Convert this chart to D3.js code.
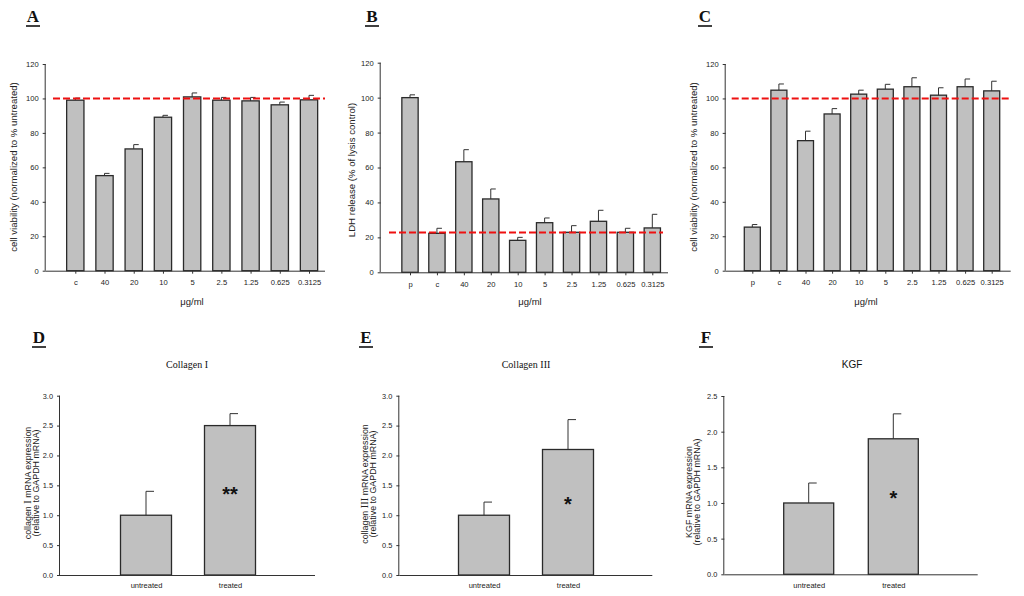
<!DOCTYPE html>
<html><head><meta charset="utf-8">
<script src="https://cdn.jsdelivr.net/npm/d3@7"></script>
<style>body{margin:0;background:#fff}svg{display:block}</style>
</head><body>
<svg id="c" width="1024" height="596"></svg>
<script>
// ---------- DATA ----------
const catsA = ["c","40","20","10","5","2.5","1.25","0.625","0.3125"];
const valsA = [99, 55.2, 70.7, 89.1, 100.9, 99, 98.6, 96.3, 99.2];
const errsA = [1.2, 1.3, 2.5, 1.1, 2.3, 1.6, 2.0, 1.6, 2.6];
const refA = 100;

const catsB = ["p","c","40","20","10","5","2.5","1.25","0.625","0.3125"];
const valsB = [100, 22.3, 63.3, 42, 18.3, 28.4, 22.9, 29.2, 22.9, 25.4];
const errsB = [1.6, 2.9, 6.9, 5.7, 1.7, 2.7, 3.8, 6.3, 2.3, 7.8];
const refB = 22.8;

const catsC = ["p","c","40","20","10","5","2.5","1.25","0.625","0.3125"];
const valsC = [25.3, 104.8, 75.5, 91, 102.5, 105.4, 106.8, 101.9, 106.8, 104.4];
const errsC = [1.5, 3.6, 5.5, 3.1, 2.3, 2.8, 5.2, 4.3, 4.5, 5.6];
const refC = 100;

const catsMRNA = ["untreated","treated"];
const valsD = [1.0, 2.5];
const errsD = [0.4, 0.2];
const valsE = [1.0, 2.1];
const errsE = [0.22, 0.5];
const valsF = [1.0, 1.9];
const errsF = [0.28, 0.35];

const ticksTop = [0,20,40,60,80,100,120];
const ticksDE = [0,0.5,1.0,1.5,2.0,2.5,3.0];
const ticksF = [0,0.5,1.0,1.5,2.0,2.5];

// ---------- DRAW ----------
const svg = d3.select("#c");
const SANS = "'Liberation Sans', Arial, sans-serif";
const SERIF = "'Liberation Serif', 'Times New Roman', serif";

function panel(o){
  const g = svg.append("g");
  const y = d3.scaleLinear().domain(o.ydom).range([o.y0, o.y1]);
  const x = d3.scalePoint().domain(o.cats).range([o.c0, o.c1]);
  const data = o.cats.map((c,i)=>({c, v:o.vals[i], e:o.errs[i]}));
  g.selectAll("line.err").data(data).join("line")
    .attr("x1", d=>x(d.c)).attr("x2", d=>x(d.c))
    .attr("y1", d=>y(d.v)).attr("y2", d=>y(d.v+d.e))
    .attr("stroke","#333").attr("stroke-width",1);
  g.selectAll("line.cap").data(data).join("line")
    .attr("x1", d=>x(d.c)).attr("x2", d=>x(d.c)+o.cap)
    .attr("y1", d=>y(d.v+d.e)).attr("y2", d=>y(d.v+d.e))
    .attr("stroke","#333").attr("stroke-width",1);
  g.selectAll("rect.bar").data(data).join("rect")
    .attr("x", d=>x(d.c)-o.bw/2).attr("width", o.bw)
    .attr("y", d=>y(d.v)).attr("height", d=>y(0)-y(d.v))
    .attr("fill","#c0c0c0").attr("stroke","#2a2a2a").attr("stroke-width",1.3);
  const ya = d3.axisLeft(y).tickValues(o.ticks).tickSize(3).tickPadding(4)
    .tickFormat(o.fmt);
  const yg = g.append("g").attr("transform",`translate(${o.ax0},0)`).call(ya);
  yg.select(".domain").attr("d",`M-0.5,${o.y0}V${y(o.ticks[o.ticks.length-1])}`).attr("stroke","#333");
  yg.selectAll(".tick line").attr("stroke","#333");
  yg.selectAll("text").attr("font-family",SANS).attr("font-size",o.tfs).attr("fill","#222");
  g.append("line").attr("x1",o.ax0).attr("x2",o.ax1).attr("y1",o.y0+0.5).attr("y2",o.y0+0.5)
    .attr("stroke","#333").attr("stroke-width",1);
  const xa = d3.axisBottom(x).tickSize(o.xtick).tickPadding(o.xpad);
  const xg = g.append("g").attr("transform",`translate(0,${o.y0})`).call(xa);
  xg.select(".domain").remove();
  xg.selectAll(".tick line").attr("stroke","#333");
  xg.selectAll("text").attr("font-family",SANS).attr("font-size",o.xfs).attr("fill","#222");
  if (o.ref !== undefined){
    g.append("line").attr("x1",o.r0).attr("x2",o.r1).attr("y1",y(o.ref)).attr("y2",y(o.ref))
      .attr("stroke","#ee1111").attr("stroke-width",2).attr("stroke-dasharray","7,3");
  }
  o.ytitle.forEach((t,i)=>{
    const tx = g.append("text").attr("transform",`translate(${o.ytx + i*o.yld},${o.yty}) rotate(-90)`)
      .attr("text-anchor","middle").attr("dy","0.35em")
      .attr("font-family",SANS).attr("font-size",o.yfs).attr("fill","#222");
    if (Array.isArray(t)) t.forEach(p=>tx.append("tspan").attr("font-family",p.f==="serif"?SERIF:SANS)
        .attr("font-size",p.s||o.yfs).text(p.t));
    else tx.text(t);
  });
  if (o.xtitle) g.append("text").attr("x",o.xtx).attr("y",o.xty).attr("text-anchor","middle")
    .attr("font-family",SANS).attr("font-size",9.5).attr("fill","#222").text(o.xtitle);
  if (o.title) g.append("text").attr("x",o.ttx).attr("y",o.tty).attr("text-anchor","middle")
    .attr("font-family",o.tfont).attr("font-size",o.tsize).attr("fill","#111").text(o.title);
  g.append("text").attr("x",o.lx).attr("y",o.ly).attr("text-anchor","middle")
    .attr("font-family",SERIF).attr("font-weight","bold").attr("font-size",17).attr("fill","#111").text(o.letter);
  g.append("line").attr("x1",o.lx-7).attr("x2",o.lx+7).attr("y1",o.ly+4).attr("y2",o.ly+4)
    .attr("stroke","#111").attr("stroke-width",1.6);
  if (o.sig) g.append("text").attr("x",x(o.cats[1])).attr("y",o.sigy).attr("text-anchor","middle")
    .attr("dy","0.7em").attr("font-family",SANS).attr("font-weight","bold").attr("font-size",o.sigfs).attr("fill","#111").text(o.sig);
}

const fmt0 = d3.format("d"), fmt1 = d3.format(".1f");
const yTopTitle = "cell viability (normalized to % untreated)";

panel({cats:catsA, vals:valsA, errs:errsA, ydom:[0,120], y0:270.7, y1:64, c0:75.3, c1:309, bw:17.3, cap:5,
  ax0:45.7, ax1:325, ticks:ticksTop, fmt:fmt0, tfs:7.6, xtick:3, xpad:6, xfs:7.6,
  ref:refA, r0:53, r1:325, ytitle:[yTopTitle], ytx:14, yld:0, yty:167, yfs:9.6,
  xtitle:"\u03bcg/ml", xtx:192, xty:305, letter:"A", lx:33, ly:22});
panel({cats:catsB, vals:valsB, errs:errsB, ydom:[0,120], y0:272.3, y1:62.7, c0:410, c1:652.3, bw:16.3, cap:5,
  ax0:380.7, ax1:668, ticks:ticksTop, fmt:fmt0, tfs:7.6, xtick:3, xpad:6, xfs:7.6,
  ref:refB, r0:389, r1:663, ytitle:["LDH release (% of lysis control)"], ytx:352, yld:0, yty:170, yfs:9.6,
  xtitle:"\u03bcg/ml", xtx:530, xty:305, letter:"B", lx:372, ly:22});
panel({cats:catsC, vals:valsC, errs:errsC, ydom:[0,120], y0:270.7, y1:64, c0:752.3, c1:991.7, bw:16, cap:5,
  ax0:725.7, ax1:1010.7, ticks:ticksTop, fmt:fmt0, tfs:7.6, xtick:3, xpad:6, xfs:7.6,
  ref:refC, r0:731.7, r1:1010.7, ytitle:[yTopTitle], ytx:694, yld:0, yty:167, yfs:9.6,
  xtitle:"\u03bcg/ml", xtx:866, xty:305, letter:"C", lx:705, ly:22});

panel({cats:catsMRNA, vals:valsD, errs:errsD, ydom:[0,3], y0:575, y1:395.7, c0:146, c1:230, bw:51, cap:8,
  ax0:60, ax1:315, ticks:ticksDE, fmt:fmt1, tfs:7.4, xtick:0, xpad:8, xfs:7.5,
  ytitle:[[{t:"collagen  "},{t:"I",f:"serif",s:10.5},{t:"  mRNA expression"}],"(relative to GAPDH mRNA)"],
  ytx:28, yld:7.5, yty:483, yfs:8.9, title:"Collagen I", tfont:SERIF, tsize:10, ttx:187, tty:368,
  letter:"D", lx:39, ly:343, sig:"**", sigy:487, sigfs:20});
panel({cats:catsMRNA, vals:valsE, errs:errsE, ydom:[0,3], y0:575, y1:395.7, c0:484, c1:568, bw:51, cap:8,
  ax0:399.3, ax1:652.3, ticks:ticksDE, fmt:fmt1, tfs:7.4, xtick:0, xpad:8, xfs:7.5,
  ytitle:[[{t:"collagen "},{t:"III",f:"serif",s:10.5},{t:" mRNA expression"}],"(relative to GAPDH mRNA)"],
  ytx:365, yld:7.5, yty:484, yfs:8.9, title:"Collagen III", tfont:SERIF, tsize:10, ttx:526, tty:368,
  letter:"E", lx:366, ly:343, sig:"*", sigy:497, sigfs:20});
panel({cats:catsMRNA, vals:valsF, errs:errsF, ydom:[0,2.5], y0:574.3, y1:396, c0:808.7, c1:893.3, bw:50, cap:8,
  ax0:724.3, ax1:977.7, ticks:ticksF, fmt:fmt1, tfs:7.4, xtick:0, xpad:8, xfs:7.5,
  ytitle:["KGF mRNA expression","(relative to GAPDH mRNA)"],
  ytx:689, yld:7.5, yty:492, yfs:8.9, title:"KGF", tfont:SANS, tsize:10, ttx:852, tty:368,
  letter:"F", lx:706, ly:343, sig:"*", sigy:491, sigfs:20});
</script>
</body></html>
